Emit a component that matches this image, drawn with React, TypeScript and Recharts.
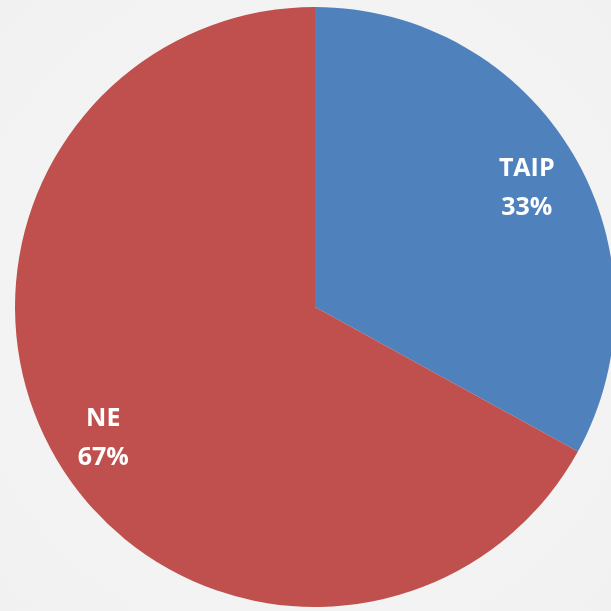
import React from 'react';
import { PieChart, Pie, Cell } from 'recharts';

const names = ['TAIP', 'NE'];
const shares = [33, 67];
const colors = ['#4f81bd', '#c0504d'];

const data = names.map((name, i) => ({ name, value: shares[i] }));

const RADIAN = Math.PI / 180;

const renderLabel = (props: any) => {
  const { cx, cy, midAngle, outerRadius, name, value } = props;
  const r = outerRadius * 0.82;
  const x = cx + r * Math.cos(-midAngle * RADIAN);
  const y = cy + r * Math.sin(-midAngle * RADIAN);
  return (
    <text
      x={x}
      y={y}
      fill="#ffffff"
      textAnchor="middle"
      fontFamily="'Open Sans', sans-serif"
      fontWeight="bold"
      fontSize={25}
    >
      <tspan x={x} dy={-6}>{name}</tspan>
      <tspan x={x} dy={39}>{`${value}%`}</tspan>
    </text>
  );
};

export default function App() {
  return (
    <div
      style={{
        position: 'fixed',
        top: 0,
        left: 0,
        width: 611,
        height: 611,
        background: 'radial-gradient(circle at 50% 50%, #f7f7f7 0%, #f1f1f1 100%)',
      }}
    >
      <PieChart width={611} height={611} margin={{ top: 0, right: 0, bottom: 0, left: 0 }}>
        <Pie
          data={data}
          dataKey="value"
          nameKey="name"
          cx={315}
          cy={307}
          outerRadius={300}
          startAngle={90}
          endAngle={-270}
          stroke="none"
          label={renderLabel}
          labelLine={false}
          isAnimationActive={false}
        >
          {data.map((d, i) => (
            <Cell key={d.name} fill={colors[i]} />
          ))}
        </Pie>
      </PieChart>
    </div>
  );
}
